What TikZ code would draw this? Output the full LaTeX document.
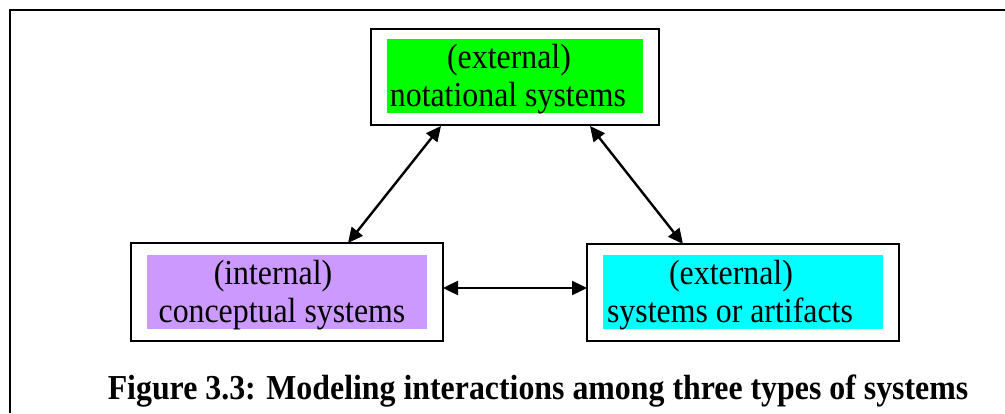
\documentclass[tikz,border=0pt]{standalone}
\usepackage{fontspec}
\setmainfont{Liberation Serif}[FakeStretch=0.91]
\usetikzlibrary{arrows.meta,calc}
\definecolor{notgreen}{HTML}{00FF00}
\definecolor{conpurple}{HTML}{CC99FF}
\definecolor{artcyan}{HTML}{00FFFF}
\begin{document}
\begin{tikzpicture}[x=1pt,y=-1pt,
  framebox/.style={draw=black,line width=2pt,fill=white,minimum width=#1,minimum height=97pt,inner sep=0pt,outer sep=0pt},
  boxtext/.style={anchor=base,inner sep=0pt,font=\fontsize{35}{38}\selectfont},
  link/.style={line width=2.4pt,{Triangle[length=15pt,width=14pt]}-{Triangle[length=15pt,width=14pt]}},
  caption/.style={anchor=base,inner sep=0pt,font=\fontsize{35}{40}\selectfont\bfseries}]
\useasboundingbox (0,0) rectangle (1005,413);
\fill[white] (0,0) rectangle (1005,413);
% outer frame (open to the right and bottom)
\draw[line width=2pt] (10,413) -- (10,10) -- (1005,10);

% notational systems
\node[framebox=288pt,minimum height=96pt] (top) at (515,77) {};
\fill[notgreen] (387,39) rectangle (643,113);
\node[boxtext] (toptxtA) at (509,68) {(external)};
\node[boxtext] (toptxtB) at (508,106) {notational systems};

% conceptual systems
\node[framebox=312pt,minimum height=98pt] (left) at (287,292) {};
\fill[conpurple] (147,255) rectangle (427,329);
\node[boxtext] (lefttxtA) at (273,284) {(internal)};
\node[boxtext] (lefttxtB) at (282,322) {conceptual systems};

% systems or artifacts
\node[framebox=312pt,minimum height=97pt] (right) at (743,292.5) {};
\fill[artcyan] (603,255) rectangle (883,329);
\node[boxtext] (righttxtA) at (731,284) {(external)};
\node[boxtext] (righttxtB) at (730,322) {systems or artifacts};

% connectors
\coordinate (tl) at ($(top.south west)+(70,1)$);
\coordinate (tr) at ($(top.south west)+(219,1)$);
\coordinate (lt) at ($(left.north west)+(217,0)$);
\coordinate (rt) at ($(right.north west)+(96,0)$);
\coordinate (le) at ($(left.east)+(0,-4)$);
\coordinate (re) at (le -| right.west);
\draw[link] (tl) -- (lt);
\draw[link] (tr) -- (rt);
\draw[link] (le) -- (re);

\node[caption] (cap) at (538,399) {Figure 3.3: Modeling interactions among three types of systems};
\end{tikzpicture}
\end{document}
